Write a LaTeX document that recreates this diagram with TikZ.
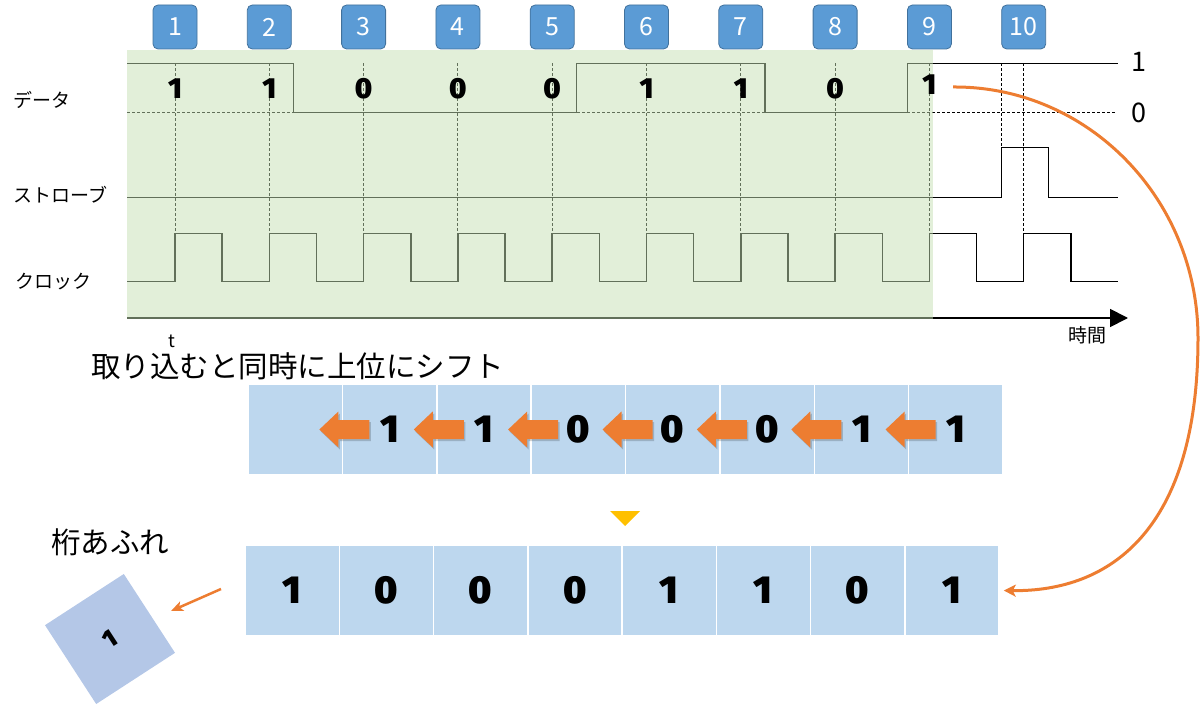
\documentclass[tikz,border=0pt]{standalone}
\usepackage{fontspec}
\usetikzlibrary{arrows.meta}
\newfontfamily\jp{Noto Sans CJK JP}
\IfFontExistsTF{Open Sans ExtraBold}{\newfontfamily\heavy{Open Sans ExtraBold}}{%
  \IfFontExistsTF{Fira Sans Black}{\newfontfamily\heavy{Fira Sans Black}}{%
    \newfontfamily\heavy{Liberation Sans Bold}}}
\definecolor{boxblue}{HTML}{5B9BD5}
\definecolor{boxedge}{HTML}{41719C}
\definecolor{greenov}{HTML}{C5E0B4}
\definecolor{cellblue}{HTML}{BDD7EE}
\definecolor{ovblue}{HTML}{B4C7E7}
\definecolor{orng}{HTML}{ED7D31}
\definecolor{yel}{HTML}{FFC000}
\tikzset{
  wave/.style={line width=1.5pt, black},
  guide/.style={line width=1pt, black, dash pattern=on 3pt off 2pt},
  numbox/.style={draw=boxedge, line width=0.8pt, fill=boxblue, rounded corners=5pt,
    minimum width=44pt, minimum height=44pt, inner sep=0pt, text=white,
    font=\jp\fontsize{25}{25}\selectfont},
  siglabel/.style={anchor=west, inner sep=0pt, font=\jp\fontsize{19}{19}\selectfont},
  lvl/.style={inner sep=0pt, font=\jp\fontsize{27}{27}\selectfont},
  bit/.style={inner sep=0pt, font=\heavy\fontsize{29}{29}\selectfont},
  mcell/.style={draw=white, line width=1.5pt, fill=cellblue, minimum width=94.375pt,
    minimum height=91pt, inner sep=0pt, font=\heavy\fontsize{39}{39}\selectfont},
  bcell/.style={draw=white, line width=1.5pt, fill=cellblue, minimum width=94.25pt,
    minimum height=91pt, inner sep=0pt, font=\heavy\fontsize{39}{39}\selectfont},
  bigtitle/.style={anchor=west, inner sep=0pt, font=\jp\fontsize{29.5}{29.5}\selectfont},
  curvearrow/.style={draw=orng, line width=3pt, -{Stealth[length=12pt,width=12pt,inset=3pt]}},
  smallarrow/.style={draw=orng, line width=2.5pt, -{Stealth[length=12pt,width=10pt,inset=3pt]}},
}
\begin{document}
\begin{tikzpicture}[x=1pt,y=-1pt]
\useasboundingbox (0,0) rectangle (1200,706);

% number boxes
\foreach \k in {1,...,10} {
  \node[numbox] (n\k) at ({175+94.3*(\k-1)},27) {\k};
}

% waveforms
\draw[wave] (127,63.3) -- (293.3,63.3) -- (293.3,112.3) -- (576.7,112.3) -- (576.7,63.3)
  -- (765,63.3) -- (765,112.3) -- (907.3,112.3) -- (907.3,63.3) -- (1118,63.3);
\draw[line width=1pt, dash pattern=on 3pt off 2pt] (127,112.3) -- (1116,112.3);
\draw[wave] (127,197.3) -- (1001.7,197.3) -- (1001.7,147.5) -- (1048.3,147.5)
  -- (1048.3,197.3) -- (1118,197.3);
\draw[wave] (127,281.7) foreach \k in {0,...,9} {
  -- ({175+94.3*\k},281.7) -- ({175+94.3*\k},233.3) -- ({222.15+94.3*\k},233.3)
  -- ({222.15+94.3*\k},281.7) } -- (1118,281.7);
\foreach \k in {0,...,9} {
  \draw[guide] ({175+94.3*\k},63.3) -- ({175+94.3*\k},233.3);
}
\draw[guide] (1001.7,63.3) -- (1001.7,147.5);
\draw[line width=1.8pt, -{Triangle[length=18pt,width=18pt]}] (127,318) -- (1128,318);

% green overlay
\fill[greenov, opacity=0.5] (127,50) rectangle (933,319);

% signal labels
\node[siglabel] (ldata) at (13,100) {データ};
\node[siglabel] (lstrobe) at (13,195) {ストローブ};
\node[siglabel] (lclock) at (15,282) {クロック};
\node[lvl] (lv1) at (1139,62) {1};
\node[lvl] (lv0) at (1139,113) {0};
\node[siglabel] (ltime) at (1068,335) {時間};

% sampled bits
\foreach \v [count=\k from 0] in {1,1,0,0,0,1,1,0} {
  \node[bit] (d\k) at ({175+94.3*\k},88.7) {\v};
}
\node[bit] (d8) at (929.4,85) {1};

% tiny t and title
\node[inner sep=0pt, font=\jp\fontsize{18}{18}\selectfont] (tt) at (172,341) {t};
\node[bigtitle] (title) at (91,366) {取り込むと同時に上位にシフト};

% middle register
\foreach \v [count=\k] in {{},1,1,0,0,0,1,1} {
  \node[mcell] (m\k) at ({248+94.375*(\k-0.5)},429.5) {\v};
}
% shift arrows
\foreach \j in {1,...,7} {
  \pgfmathsetmacro{\tx}{248+94.375*\j-23}
  \fill[black, opacity=0.18] ({\tx+1.5},431.5) -- ({\tx+20.5},413.5) -- ({\tx+20.5},422)
    -- ({\tx+51.5},422) -- ({\tx+51.5},441) -- ({\tx+20.5},441) -- ({\tx+20.5},449.5) -- cycle;
  \fill[orng] (\tx,429.5) -- ({\tx+19},411.5) -- ({\tx+19},420) -- ({\tx+50},420)
    -- ({\tx+50},439) -- ({\tx+19},439) -- ({\tx+19},447.5) -- cycle;
}

% yellow marker
\fill[yel] (610,511) -- (640,511) -- (625,526) -- cycle;

% bottom register
\foreach \v [count=\k] in {1,0,0,0,1,1,0,1} {
  \node[bcell] (b\k) at ({245+94.25*(\k-0.5)},590.5) {\v};
}

% overflow
\node[bigtitle] (ovt) at (51,542) {桁あふれ};
\node[fill=ovblue, minimum size=94pt, inner sep=0pt, rotate=33,
  font=\heavy\fontsize{25}{25}\selectfont] (ov) at (110,639) {1};

% connectors
\coordinate (c0) at (953,87);
\coordinate (c1) at (1198,338);
\draw[curvearrow] (c0) .. controls (1088,86) and (1198,199) .. (c1)
  .. controls (1198,530) and (1110,592) .. ([xshift=4pt]b8.east);
\coordinate (s0) at (221,589);
\coordinate (s1) at (171,611);
\draw[smallarrow] (s0) -- (s1);
\end{tikzpicture}
\end{document}
